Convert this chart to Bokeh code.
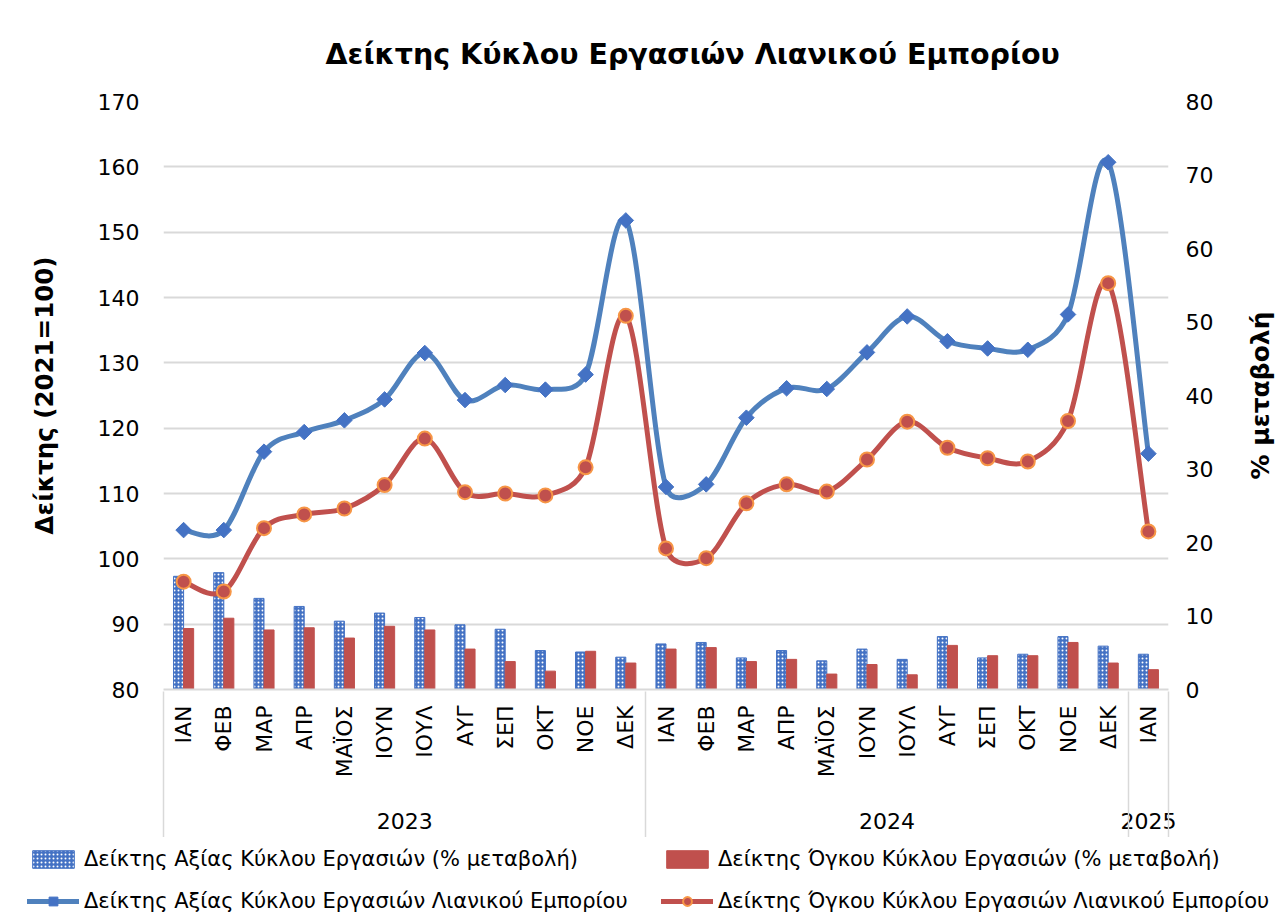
import numpy as np
from bokeh.plotting import figure
from bokeh.layouts import column, row
from bokeh.models import (Range1d, LinearAxis, FixedTicker, Legend, LegendItem)
from bokeh.embed import file_html
from bokeh.resources import INLINE

# ---------------- data ----------------
months = ["ΙΑΝ", "ΦΕΒ", "ΜΑΡ", "ΑΠΡ", "ΜΑΪΟΣ", "ΙΟΥΝ", "ΙΟΥΛ", "ΑΥΓ", "ΣΕΠ", "ΟΚΤ", "ΝΟΕ", "ΔΕΚ",
          "ΙΑΝ", "ΦΕΒ", "ΜΑΡ", "ΑΠΡ", "ΜΑΪΟΣ", "ΙΟΥΝ", "ΙΟΥΛ", "ΑΥΓ", "ΣΕΠ", "ΟΚΤ", "ΝΟΕ", "ΔΕΚ",
          "ΙΑΝ"]
years = ["2023", "2024", "2025"]
year_counts = [12, 12, 1]

value_index = [104.4, 104.4, 116.4, 119.4, 121.2, 124.4, 131.5, 124.3, 126.6, 125.9, 128.2, 151.8,
               111.0, 111.4, 121.6, 126.1, 126.0, 131.6, 137.1, 133.3, 132.2, 132.0, 137.4, 160.7,
               116.1]
volume_index = [96.5, 95.0, 104.7, 106.8, 107.7, 111.3, 118.4, 110.2, 110.0, 109.7, 114.0, 137.2,
                101.6, 100.1, 108.5, 111.4, 110.3, 115.2, 121.0, 117.0, 115.4, 114.9, 121.1, 142.2,
                104.2]
value_pct = [15.4, 15.9, 12.4, 11.3, 9.3, 10.4, 9.8, 8.8, 8.2, 5.3, 5.1, 4.4,
             6.2, 6.4, 4.3, 5.3, 3.9, 5.5, 4.1, 7.2, 4.3, 4.8, 7.2, 5.9,
             4.8]
volume_pct = [8.3, 9.7, 8.1, 8.4, 7.0, 8.6, 8.1, 5.5, 3.8, 2.5, 5.2, 3.6,
              5.5, 5.7, 3.8, 4.1, 2.1, 3.4, 2.0, 6.0, 4.6, 4.6, 6.4, 3.6,
              2.7]

names = ["Δείκτης Αξίας Κύκλου Εργασιών (% μεταβολή)",
         "Δείκτης Όγκου Κύκλου Εργασιών (% μεταβολή)",
         "Δείκτης Αξίας Κύκλου Εργασιών Λιανικού Εμπορίου",
         "Δείκτης Όγκου Κύκλου Εργασιών Λιανικού Εμπορίου"]

left_ticks = list(range(80, 171, 10))
right_ticks = list(range(0, 81, 10))

FONT = "DejaVu Sans"
n = len(months)
x = np.arange(n, dtype=float)

FRAME_W = 1005
FRAME_H = 588

# ---------- styles ----------
BLUE_BAR = dict(fill_color="#4472C4", line_color="#4472C4", line_width=1,
                hatch_pattern="dot", hatch_color="white", hatch_scale=4, hatch_weight=1.2)
RED_BAR = dict(fill_color="#C0504D", line_color="#C0504D")
BLUE_LINE = dict(line_color="#4F81BD", line_width=5, line_cap="round")
RED_LINE = dict(line_color="#C0504D", line_width=5, line_cap="round")
BLUE_MK = dict(marker="square", angle=np.pi / 4, size=11, fill_color="#4472C4", line_color="#4472C4")
RED_MK = dict(marker="circle", size=14, fill_color="#C0504D", line_color="#F79646", line_width=2)

def no_align(fig):
    try:
        fig.frame_align = False
    except Exception:
        pass

p = figure(width=1238, height=837, output_backend="svg", toolbar_location=None,
           x_range=Range1d(-0.5, n - 0.5), y_range=Range1d(80, 170),
           min_border_left=163, min_border_right=70, min_border_top=101, min_border_bottom=148)
p.extra_y_ranges = {"pct": Range1d(0, 80)}
p.outline_line_color = None
p.background_fill_color = "white"
p.border_fill_color = "white"

# title
p.title.text = "Δείκτης Κύκλου Εργασιών Λιανικού Εμπορίου"
p.title.text_font = FONT
p.title.text_font_size = "28.5px"
p.title.text_font_style = "bold"
p.title.align = "left"
p.title.offset = 162
p.title.standoff = 61
p.title.text_color = "black"

# axes
p.xaxis.visible = False
p.yaxis.visible = False
p.xgrid.visible = False
p.ygrid.ticker = FixedTicker(ticks=left_ticks)
p.ygrid.grid_line_color = "#D9D9D9"
p.ygrid.grid_line_width = 2

def style_axis(ax, size="22px"):
    ax.major_label_text_font = FONT
    ax.major_label_text_font_size = size
    ax.major_label_text_color = "black"
    ax.axis_label_text_font = FONT
    ax.axis_label_text_font_style = "bold"
    ax.axis_label_text_color = "black"
    ax.major_tick_out = 0
    ax.major_tick_in = 0
    ax.minor_tick_out = 0
    ax.minor_tick_in = 0

yl = LinearAxis(ticker=FixedTicker(ticks=left_ticks), axis_label="Δείκτης (2021=100)")
style_axis(yl)
yl.axis_line_color = None
yl.major_label_standoff = 24
yl.axis_label_standoff = 36
yl.axis_label_text_font_size = "24.5px"
p.add_layout(yl, "left")

yr = LinearAxis(y_range_name="pct", ticker=FixedTicker(ticks=right_ticks))
style_axis(yr)
yr.axis_line_color = None
yr.major_label_standoff = 17
p.add_layout(yr, "right")

# month axis
xm = LinearAxis(ticker=FixedTicker(ticks=list(range(n))))
style_axis(xm, "22px")
xm.major_label_overrides = {i: m for i, m in enumerate(months)}
xm.major_label_orientation = np.pi / 2
xm.major_label_standoff = 16
xm.axis_line_color = "#D9D9D9"
xm.axis_line_width = 2
p.add_layout(xm, "below")

# year axis
centers = []
s = 0
for k in year_counts:
    centers.append(s + (k - 1) / 2)
    s += k
xy = LinearAxis(ticker=FixedTicker(ticks=centers))
style_axis(xy, "22px")
xy.major_label_overrides = {float(cn): yv for cn, yv in zip(centers, years)}
xy.axis_line_color = None
xy.major_label_standoff = 32
p.add_layout(xy, "below")

# group separators: minor ticks pointing up from an empty axis
bounds = [-0.5]
c = -0.5
for k in year_counts:
    c += k
    bounds.append(c)
xs = LinearAxis(ticker=FixedTicker(ticks=[], minor_ticks=bounds))
style_axis(xs)
xs.axis_line_color = None
xs.major_label_standoff = 0
xs.minor_tick_in = 140
xs.minor_tick_out = 6
xs.minor_tick_line_color = "#D9D9D9"
xs.minor_tick_line_width = 1.5
p.add_layout(xs, "below")

# bars (right axis)
bw = 0.25
p.vbar(x=x - bw / 2, top=value_pct, bottom=0, width=bw, y_range_name="pct", **BLUE_BAR)
p.vbar(x=x + bw / 2, top=volume_pct, bottom=0, width=bw, y_range_name="pct", **RED_BAR)

# smooth lines: Excel-like Bezier segments through the data points
px_x = FRAME_W / n
px_y = FRAME_H / 90.0

def bezier_args(xs_, ys_):
    X = np.asarray(xs_, float); Y = np.asarray(ys_, float)
    m = len(X)
    Xp = np.concatenate([[X[0]], X, [X[-1]]])
    Yp = np.concatenate([[Y[0]], Y, [Y[-1]]])
    out = {k: [] for k in ("x0", "y0", "x1", "y1", "cx0", "cy0", "cx1", "cy1")}
    def dist(a, b):
        return np.hypot((Xp[a] - Xp[b]) * px_x, (Yp[a] - Yp[b]) * px_y)
    for i in range(m - 1):
        a0, a1, a2, a3 = i, i + 1, i + 2, i + 3
        d12 = dist(a1, a2)
        d02 = dist(a0, a2)
        d13 = dist(a1, a3)
        f1 = 1 / 6
        if d02 > 0 and d02 / 6 > d12 / 2:
            f1 = d12 / 2 / d02
        f2 = 1 / 6
        if d13 > 0 and d13 / 6 > d12 / 2:
            f2 = d12 / 2 / d13
        out["x0"].append(Xp[a1]); out["y0"].append(Yp[a1])
        out["x1"].append(Xp[a2]); out["y1"].append(Yp[a2])
        out["cx0"].append(Xp[a1] + f1 * (Xp[a2] - Xp[a0]))
        out["cy0"].append(Yp[a1] + f1 * (Yp[a2] - Yp[a0]))
        out["cx1"].append(Xp[a2] - f2 * (Xp[a3] - Xp[a1]))
        out["cy1"].append(Yp[a2] - f2 * (Yp[a3] - Yp[a1]))
    return out

p.bezier(**bezier_args(x, value_index), **BLUE_LINE)
p.bezier(**bezier_args(x, volume_index), **RED_LINE)
p.scatter(x, value_index, **BLUE_MK)
p.scatter(x, volume_index, **RED_MK)

# ---------- right-hand axis title (reads bottom-to-top) ----------
r = figure(width=50, height=837, output_backend="svg", toolbar_location=None,
           x_range=Range1d(0, 1), y_range=Range1d(0, 80),
           min_border_left=45, min_border_right=0, min_border_top=101, min_border_bottom=148)
r.xaxis.visible = False
r.yaxis.visible = False
r.grid.visible = False
r.outline_line_color = None
r.border_fill_color = "white"
ra = LinearAxis(ticker=FixedTicker(ticks=[]), axis_label="% μεταβολή")
style_axis(ra)
ra.axis_line_color = None
ra.major_label_standoff = 0
ra.axis_label_standoff = 9
ra.axis_label_text_font_size = "25px"
r.add_layout(ra, "left")

# ---------- legend strip (separate figure below the chart) ----------
q = figure(width=1288, height=84, output_backend="svg", toolbar_location=None,
           x_range=Range1d(1000, 1001), y_range=Range1d(1000, 1001),
           min_border=0, min_border_left=0, min_border_right=0,
           min_border_top=0, min_border_bottom=0)
no_align(q)
q.xaxis.visible = False
q.yaxis.visible = False
q.grid.visible = False
q.outline_line_color = None
q.border_fill_color = "white"
q.background_fill_color = "white"

# legend renderers use the same series (outside this strip's visible range)
lb1 = q.vbar(x=x, top=value_pct, bottom=0, width=bw, **BLUE_BAR)
lb2 = q.vbar(x=x, top=volume_pct, bottom=0, width=bw, **RED_BAR)
ll1 = q.line(x=x, y=value_index, **BLUE_LINE)
ll2 = q.line(x=x, y=volume_index, **RED_LINE)
lm1 = q.scatter(x=x, y=value_index, **BLUE_MK)
lm2 = q.scatter(x=x, y=volume_index, **RED_MK)

def make_legend(items, vy):
    return Legend(items=items, orientation="horizontal", location=(27, vy),
                  label_text_font=FONT, label_text_font_size="21px", label_text_color="black",
                  glyph_width=52, glyph_height=22, label_height=24, label_standoff=5,
                  label_width=567, spacing=10, padding=9, margin=0,
                  background_fill_alpha=0, border_line_color=None)

lg1 = make_legend([LegendItem(label=names[0], renderers=[lb1]),
                   LegendItem(label=names[1], renderers=[lb2])], 50)
lg2 = make_legend([LegendItem(label=names[2], renderers=[ll1, lm1]),
                   LegendItem(label=names[3], renderers=[ll2, lm2])], 8)
q.add_layout(lg1, "center")
q.add_layout(lg2, "center")

layout = column(row(p, r, spacing=0), q, spacing=0)
open("out.html", "w").write(file_html(layout, INLINE))
